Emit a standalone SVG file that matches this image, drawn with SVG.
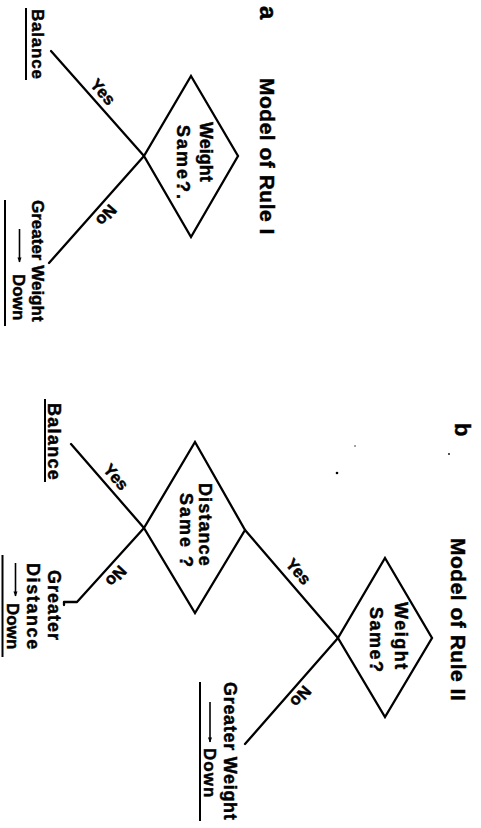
<svg xmlns="http://www.w3.org/2000/svg" width="481" height="828" viewBox="0 0 481 828">
<style>
.t{font-family:"Liberation Sans",Arial,sans-serif;font-weight:bold;fill:#000;stroke:#000;stroke-width:0.45}
.ln{stroke:#000;stroke-width:2.3;fill:none;stroke-linecap:round;stroke-linejoin:round}
.dm{stroke:#000;stroke-width:2.3;fill:#fff;stroke-linejoin:miter}
.ul{stroke:#000;stroke-width:2;fill:none}
.ar{stroke:#000;stroke-width:1.6;fill:none;marker-end:url(#ah)}
</style>
<defs>
<marker id="ah" viewBox="0 0 10 10" refX="9" refY="5" markerWidth="3.2" markerHeight="3.2" orient="auto" markerUnits="strokeWidth">
<path d="M0,1 L10,5 L0,9 Z" fill="#000"/>
</marker>
</defs>
<rect width="481" height="828" fill="#fff"/>

<g id="connectors">
<line class="ln" x1="144" y1="156" x2="51" y2="51"/>
<line class="ln" x1="144" y1="156" x2="49" y2="263"/>
<line class="ln" x1="245" y1="530" x2="338" y2="638"/>
<line class="ln" x1="144" y1="528" x2="71" y2="444"/>
<polyline class="ln" points="144,528 77,602 64,602 64,605"/>
<line class="ln" x1="338" y1="638" x2="245" y2="744"/>
<text class="t" font-size="16.5" text-anchor="middle" transform="translate(98.6,95.6) rotate(48.5)">Yes</text>
<text class="t" font-size="16.5" text-anchor="middle" transform="translate(102,211.6) rotate(131.6)">No</text>
<text class="t" font-size="16.5" text-anchor="middle" transform="translate(294.1,575.2) rotate(49.5)">Yes</text>
<text class="t" font-size="16.5" text-anchor="middle" transform="translate(111.6,480.8) rotate(49)">Yes</text>
<text class="t" font-size="16.5" text-anchor="middle" transform="translate(111.9,572.3) rotate(132.2)">No</text>
<text class="t" font-size="16.5" text-anchor="middle" transform="translate(296.4,692.7) rotate(131.5)">No</text>
</g>

<g id="title-a">
<text class="t" font-size="24" transform="translate(260,6) rotate(90)">a</text>
<text class="t" font-size="21" letter-spacing="0.5" transform="translate(260,78) rotate(90)">Model of Rule I</text>
</g>

<g id="title-b">
<text class="t" font-size="22" transform="translate(455,423) rotate(90)">b</text>
<text class="t" font-size="21" letter-spacing="0.5" transform="translate(451,538) rotate(90)">Model of Rule II</text>
</g>

<g id="specks">
<circle cx="337" cy="473" r="1.3" fill="#000"/>
<circle cx="449" cy="454" r="0.9" fill="#000"/>
<circle cx="355" cy="446" r="0.7" fill="#000"/>
</g>

<g id="node-weight-a">
<polygon class="dm" points="191,76 238,156 191,237 144,156"/>
<text class="t" font-size="18" transform="translate(200,122) rotate(90)">Weight</text>
<text class="t" font-size="18" letter-spacing="2" transform="translate(177,125) rotate(90)">Same?.</text>
</g>

<g id="node-balance-a">
<text class="t" font-size="17" letter-spacing="0.8" transform="translate(32,9) rotate(90)">Balance</text>
<line class="ul" x1="26" y1="8" x2="26" y2="80"/>
</g>

<g id="node-greater-weight-a">
<text class="t" font-size="17" transform="translate(32,200) rotate(90)">Greater Weight</text>
<line class="ar" x1="19.5" y1="229" x2="19.5" y2="262"/>
<text class="t" font-size="17" transform="translate(12.5,274) rotate(90)">Down</text>
<line class="ul" x1="5" y1="200" x2="5" y2="326"/>
</g>

<g id="node-distance-b">
<polygon class="dm" points="195,442 245,530 195,613 144,528"/>
<text class="t" font-size="18" letter-spacing="1.1" transform="translate(199,483) rotate(90)">Distance</text>
<text class="t" font-size="18" letter-spacing="2" transform="translate(180,493) rotate(90)">Same ?</text>
</g>

<g id="node-weight-b">
<polygon class="dm" points="385,558 432,638 385,717 338,638"/>
<text class="t" font-size="18" letter-spacing="1.5" transform="translate(395,602) rotate(90)">Weight</text>
<text class="t" font-size="18" letter-spacing="1.5" transform="translate(370,607) rotate(90)">Same?</text>
</g>

<g id="node-balance-b">
<text class="t" font-size="18" letter-spacing="1.3" transform="translate(48,403) rotate(90)">Balance</text>
<line class="ul" x1="45" y1="399" x2="45" y2="482"/>
</g>

<g id="node-greater-distance-b">
<text class="t" font-size="18" letter-spacing="1" transform="translate(48,570) rotate(90)">Greater</text>
<text class="t" font-size="18" letter-spacing="1.6" transform="translate(27,563) rotate(90)">Distance</text>
<line class="ar" x1="15.5" y1="563" x2="15.5" y2="596"/>
<text class="t" font-size="17" transform="translate(7,603) rotate(90)">Down</text>
<line class="ul" x1="2.5" y1="555" x2="2.5" y2="657"/>
</g>

<g id="node-greater-weight-b">
<text class="t" font-size="18" letter-spacing="0.7" transform="translate(224,682) rotate(90)">Greater Weight</text>
<line class="ar" x1="210" y1="702" x2="210" y2="742"/>
<text class="t" font-size="17" letter-spacing="1" transform="translate(204,748) rotate(90)">Down</text>
<line class="ul" x1="200" y1="682" x2="200" y2="821"/>
</g>
</svg>
